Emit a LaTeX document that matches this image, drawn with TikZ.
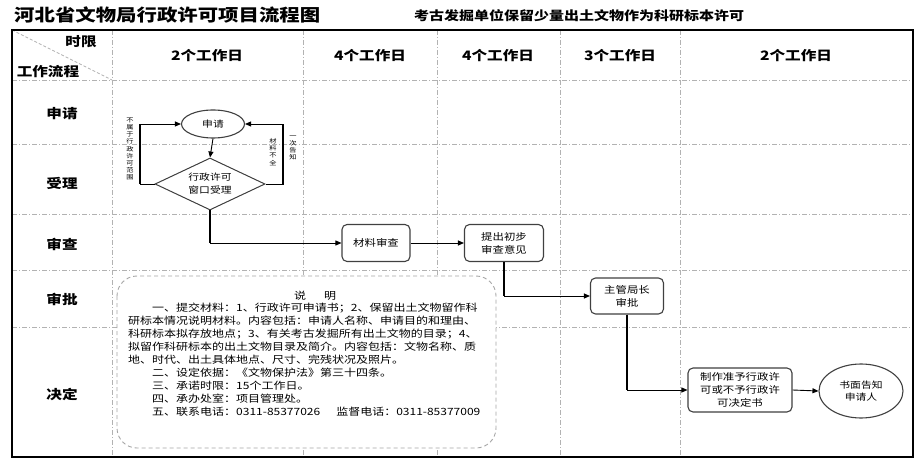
\documentclass[tikz,border=0pt]{standalone}
\usepackage{fontspec}
\newfontfamily\cjk[FakeStretch=1.2]{Noto Sans CJK SC}
\usetikzlibrary{shapes.geometric,arrows.meta}
\tikzset{
  gridline/.style={draw=black!30, line width=0.8pt, dash pattern=on 5pt off 2pt on 1pt off 2pt},
  arr/.style={-{Triangle[length=6pt,width=5pt]}, line width=0.9pt, draw=black},
  thickv/.style={line width=2.8pt, draw=black},
  box/.style={draw=black!75, line width=1.1pt, rounded corners=5pt, fill=white, align=center,
    font=\cjk\fontsize{9.5}{13}\selectfont, inner sep=0pt},
  ell/.style={ellipse, draw=black!75, line width=1.1pt, fill=white, align=center,
    font=\cjk\fontsize{9}{12.5}\selectfont, inner sep=0pt},
  dia/.style={diamond, aspect=2.1, draw=black!75, line width=1pt, fill=white, align=center,
    font=\cjk\fontsize{9}{13}\selectfont, inner sep=0pt, minimum width=110pt, minimum height=52pt},
  head/.style={font=\cjk\bfseries\fontsize{13}{13}\selectfont, inner sep=0pt},
  vlab/.style={font=\cjk\fontsize{6}{7.2}\selectfont, align=center, inner sep=0pt},
}
\begin{document}
\begin{tikzpicture}[x=1pt,y=-1pt]
\useasboundingbox[fill=white] (0,0) rectangle (920,470);
% titles
\node[anchor=west, font=\cjk\bfseries\fontsize{17}{17}\selectfont, inner sep=0pt] (title) at (14,15) {河北省文物局行政许可项目流程图};
\node[anchor=west, font=\cjk\bfseries\fontsize{12.5}{12.5}\selectfont, inner sep=0pt] (sub) at (414,16) {考古发掘单位保留少量出土文物作为科研标本许可};
% grid
\foreach \x in {112,303,437,560,680} \draw[gridline] (\x,30) -- (\x,457);
\foreach \y in {80,144,214,270,327} \draw[gridline] (12,\y) -- (913,\y);
\draw[draw=black!30, line width=0.8pt, dash pattern=on 3pt off 2pt] (12,30) -- (112,80);
% note box
\draw[draw=black!35, line width=0.9pt, dash pattern=on 4pt off 3pt, rounded corners=20pt, fill=white] (117,276) rectangle (496,448);
\node[font=\cjk\fontsize{10}{13}\selectfont, inner sep=0pt] (ntitle) at (315,296) {说\hspace{18pt}明};
\node[anchor=north west, align=left, font=\cjk\fontsize{10}{13}\selectfont, inner sep=0pt] (ntext) at (128,302.5) {%
　　一、提交材料：1、行政许可申请书；2、保留出土文物留作科\\
研标本情况说明材料。内容包括：申请人名称、申请目的和理由、\\
科研标本拟存放地点；3、有关考古发掘所有出土文物的目录；4、\\
拟留作科研标本的出土文物目录及简介。内容包括：文物名称、质\\
地、时代、出土具体地点、尺寸、完残状况及照片。\\
　　二、设定依据：《文物保护法》第三十四条。\\
　　三、承诺时限：15个工作日。\\
　　四、承办处室：项目管理处。\\
　　五、联系电话：0311-85377026\hspace{16pt}监督电话：0311-85377009};
% frame
\draw[line width=2.5pt] (12,30) rectangle (913,457);
% header texts
\node[head] (hsx) at (81,42) {时限};
\node[head] (hlc) at (48,72) {工作流程};
\node[head] (c1) at (207,56) {2个工作日};
\node[head] (c2) at (370,56) {4个工作日};
\node[head] (c3) at (498,56) {4个工作日};
\node[head] (c4) at (620,56) {3个工作日};
\node[head] (c5) at (796,56) {2个工作日};
\node[head] (r1) at (62,114) {申请};
\node[head] (r2) at (62,183) {受理};
\node[head] (r3) at (62,244) {审查};
\node[head] (r4) at (62,299) {审批};
\node[head] (r5) at (62,394) {决定};
% flow nodes
\node[ell, minimum width=63pt, minimum height=28pt] (sq) at (213,124) {申请};
\node[dia] (dm) at (210,184) {行政许可\\窗口受理};
\node[box, minimum width=68pt, minimum height=37pt] (cl) at (376,243) {材料审查};
\node[box, minimum width=79pt, minimum height=37pt] (ts) at (504,243) {提出初步\\审查意见};
\node[box, minimum width=73pt, minimum height=36pt] (zg) at (627,296) {主管局长\\审批};
\node[box, minimum width=104pt, minimum height=44pt] (zz) at (740,390) {制作准予行政许\\可或不予行政许\\可决定书};
\node[ell, minimum width=84pt, minimum height=54pt] (sm) at (861,391) {书面告知\\申请人};
% side labels
\node[vlab] (n1) at (130,149) {不\\属\\于\\行\\政\\许\\可\\范\\围};
\node[vlab] (n2) at (273,152) {材\\料\\不\\全};
\node[vlab] (n3) at (293,148) {一\\次\\告\\知};
% connectors
\coordinate (L1) at (140,184);
\coordinate (L2) at (140,124);
\coordinate (R1) at (283,184);
\coordinate (R2) at (283,124);
\draw[arr] (sq.south) -- (dm.north);
\draw[arr] (dm.west) -- (L1) -- (L2) -- (sq.west);
\draw[thickv] (L1) -- (L2);
\draw[arr] (dm.east) -- (R1) -- (R2) -- (sq.east);
\draw[thickv] (R1) -- (R2);
\draw[arr] (dm.south) |- (cl.west);
\draw[thickv] (dm.south) -- (dm.south |- cl.west);
\draw[arr] (cl.east) -- (ts.west);
\draw[arr] (ts.south) |- (zg.west);
\draw[thickv] (ts.south) -- (ts.south |- zg.west);
\draw[arr] (zg.south) |- (zz.west);
\draw[thickv] (zg.south) -- (zg.south |- zz.west);
\draw[arr] (zz.east) -- (sm.west);
\end{tikzpicture}
\end{document}
